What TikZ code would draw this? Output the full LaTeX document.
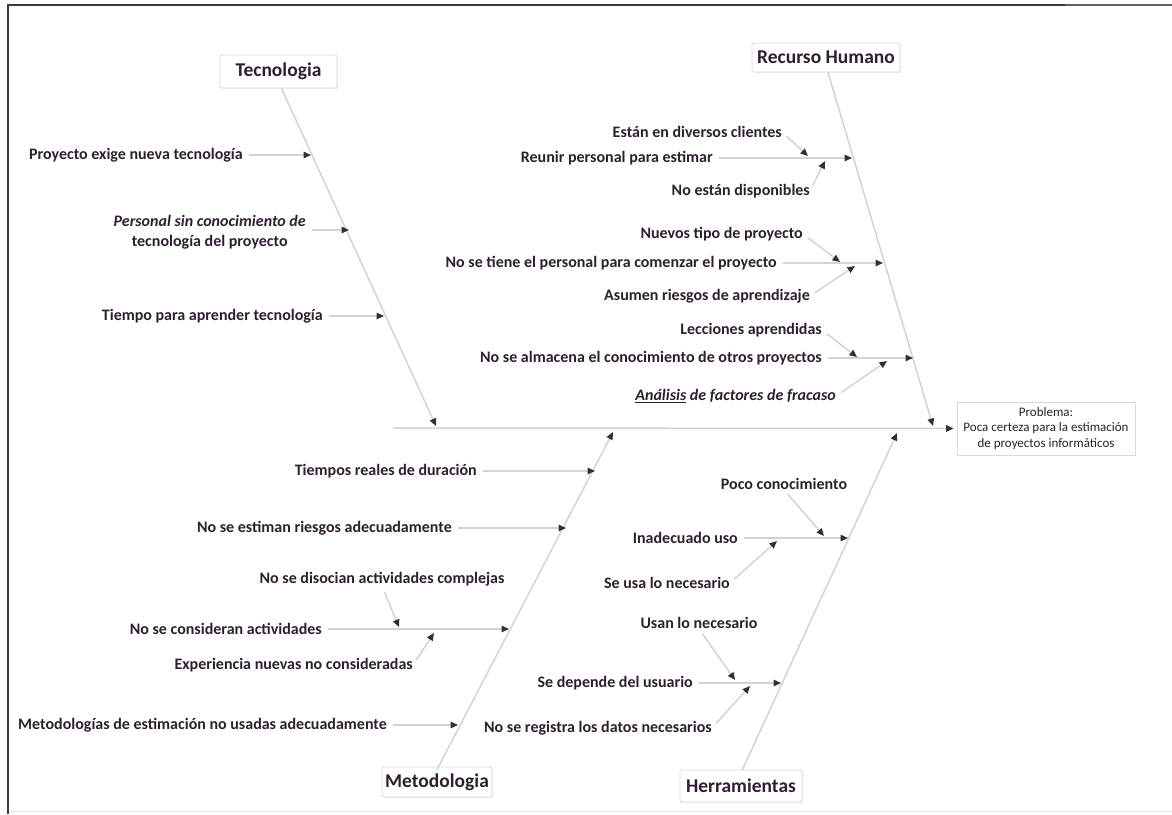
\documentclass[tikz,border=0pt]{standalone}
\usepackage{fontspec}
\setmainfont{Carlito}
\usetikzlibrary{arrows.meta,shadows}

\definecolor{ink}{HTML}{2E1F30}
\definecolor{tipc}{HTML}{3B2A3E}
\definecolor{bonec}{HTML}{D3D3D3}
\definecolor{framec}{HTML}{4B3350}

\tikzset{
  cause/.style={font=\fontsize{16}{19.5}\selectfont\bfseries, text=ink, inner sep=0pt},
  headbox/.style={draw=gray!30, line width=0.8pt, fill=white, rounded corners=1.5pt,
    font=\fontsize{19.5}{23}\selectfont\bfseries, text=ink, inner sep=0pt,
    drop shadow={opacity=0.12, shadow xshift=1.2pt, shadow yshift=-1.2pt}},
  probbox/.style={draw=gray!30, line width=0.8pt, fill=white,
    font=\fontsize{13}{15.5}\selectfont, text=ink, align=center, inner sep=0pt,
    drop shadow={opacity=0.12, shadow xshift=1.2pt, shadow yshift=-1.2pt}},
  conn/.style={draw=bonec, line width=1.5pt, -{Triangle[length=7.5pt,width=6.5pt,color=tipc]}},
  feed/.style={conn, shorten <=6pt},
}

\begin{document}
\begin{tikzpicture}[x=1pt, y=-1pt]
\useasboundingbox (0,0) rectangle (1172,814);

% page frame
\draw[framec, line width=2.6pt] (1065,5) -- (8,5) -- (8,814);
\draw[gray!75!black, line width=2.6pt] (1065,5) -- (1172,5);
\draw[gray!20, line width=1pt] (10,811) -- (1172,811);

% category boxes and the problem
\node[headbox, minimum width=117pt, minimum height=33pt] (tec) at (278.5,71.5) {Tecnologia};
\node[headbox, minimum width=148pt, minimum height=29pt] (rh) at (826,57.5) {Recurso Humano};
\node[headbox, minimum width=110pt, minimum height=30pt] (met) at (437,782) {Metodologia};
\node[headbox, minimum width=122pt, minimum height=32pt] (her) at (741,786) {Herramientas};
\node[probbox, minimum width=178pt, minimum height=53pt] (prob) at (1046,428.5)
  {Problema:\\Poca certeza para la estimación\\de proyectos informáticos};

% spine
\coordinate (spine) at (393,428);
\draw[conn, shorten >=3pt] (spine) -- (prob.west);

% main bones
\coordinate (tecEnd) at (436,426);
\coordinate (rhEnd) at (933,426);
\coordinate (metEnd) at (613,432);
\coordinate (herEnd) at (897,433);
\draw[conn] ([xshift=3pt]tec.south) -- (tecEnd);
\draw[conn] ([xshift=2pt]rh.south) -- (rhEnd);
\draw[conn] ([yshift=-3pt]met.north) -- (metEnd);
\draw[conn] ([xshift=1pt,yshift=-1pt]her.north) -- (herEnd);

% ---------- Tecnologia ----------
\node[cause, anchor=east] (t1) at (243,155) {Proyecto exige nueva tecnología};
\node[cause, anchor=east, align=center] (t2) at (306,232)
  {\itshape Personal sin conocimiento de\\tecnología del proyecto};
\node[cause, anchor=east] (t3) at (323,316) {Tiempo para aprender tecnología};
\coordinate (t1T) at (311,155);
\coordinate (t2T) at (349,230);
\coordinate (t3T) at (384,316);
\draw[feed] (t1.east) -- (t1T);
\draw[feed] (t2.east |- t2T) -- (t2T);
\draw[feed] (t3.east) -- (t3T);

% ---------- Recurso Humano ----------
\node[cause, anchor=east] (r1) at (713,158) {Reunir personal para estimar};
\node[cause, anchor=east] (r1a) at (782,132) {Están en diversos clientes};
\node[cause, anchor=east] (r1b) at (810,191) {No están disponibles};
\coordinate (r1T) at (852,158);
\coordinate (r1aT) at (808,156);
\coordinate (r1bT) at (825,161);
\draw[feed] (r1.east) -- (r1T);
\draw[feed] (r1a.east) -- (r1aT);
\draw[feed] (r1b.east) -- (r1bT);

\node[cause, anchor=east] (r2) at (777,263) {No se tiene el personal para comenzar el proyecto};
\node[cause, anchor=east] (r2a) at (803,234) {Nuevos tipo de proyecto};
\node[cause, anchor=east] (r2b) at (810,296) {Asumen riesgos de aprendizaje};
\coordinate (r2T) at (883,263);
\coordinate (r2aT) at (840,262);
\coordinate (r2bT) at (855,266);
\draw[feed] (r2.east) -- (r2T);
\draw[feed] (r2a.east) -- (r2aT);
\draw[feed] (r2b.east) -- (r2bT);

\node[cause, anchor=east] (r3) at (822,358) {No se almacena el conocimiento de otros proyectos};
\node[cause, anchor=east] (r3a) at (822,330) {Lecciones aprendidas};
\node[cause, anchor=east] (r3b) at (836,396) {\itshape\underline{Análisis} de factores de fracaso};
\coordinate (r3T) at (913,358);
\coordinate (r3aT) at (857,357);
\coordinate (r3bT) at (887,361);
\draw[feed] (r3.east) -- (r3T);
\draw[feed] (r3a.east) -- (r3aT);
\draw[feed] (r3b.east) -- (r3bT);

% ---------- Metodologia ----------
\node[cause, anchor=east] (m1) at (477,471) {Tiempos reales de duración};
\node[cause, anchor=east] (m2) at (452,528) {No se estiman riesgos adecuadamente};
\coordinate (m1T) at (595,471);
\coordinate (m2T) at (566,528);
\draw[feed] (m1.east) -- (m1T);
\draw[feed] (m2.east) -- (m2T);

\node[cause, anchor=east] (m3) at (322,629) {No se consideran actividades};
\node[cause] (m3a) at (382,579) {No se disocian actividades complejas};
\node[cause, anchor=east] (m3b) at (413,665) {Experiencia nuevas no consideradas};
\coordinate (m3T) at (509,629);
\coordinate (m3aT) at (399,627);
\coordinate (m3bT) at (434,633);
\draw[feed] (m3.east) -- (m3T);
\draw[feed] (m3a.south) -- (m3aT);
\draw[feed] (m3b.east) -- (m3bT);

\node[cause, anchor=east] (m4) at (387,725) {Metodologías de estimación no usadas adecuadamente};
\coordinate (m4T) at (458,725);
\draw[feed] (m4.east) -- (m4T);

% ---------- Herramientas ----------
\node[cause, anchor=east] (h1) at (738,538) {Inadecuado uso};
\node[cause] (h1a) at (784,484) {Poco conocimiento};
\node[cause, anchor=east] (h1b) at (730,583) {Se usa lo necesario};
\coordinate (h1T) at (848,538);
\coordinate (h1aT) at (824,536);
\coordinate (h1bT) at (777,541);
\draw[feed] (h1.east) -- (h1T);
\draw[feed] (h1a.south) -- (h1aT);
\draw[feed] (h1b.east) -- (h1bT);

\node[cause, anchor=east] (h2) at (693,683) {Se depende del usuario};
\node[cause] (h2a) at (699,623) {Usan lo necesario};
\node[cause, anchor=east] (h2b) at (712,728) {No se registra los datos necesarios};
\coordinate (h2T) at (781,683);
\coordinate (h2aT) at (735,680);
\coordinate (h2bT) at (750,686);
\draw[feed] (h2.east) -- (h2T);
\draw[feed] (h2a.south) -- (h2aT);
\draw[feed] (h2b.east) -- (h2bT);

\end{tikzpicture}
\end{document}
